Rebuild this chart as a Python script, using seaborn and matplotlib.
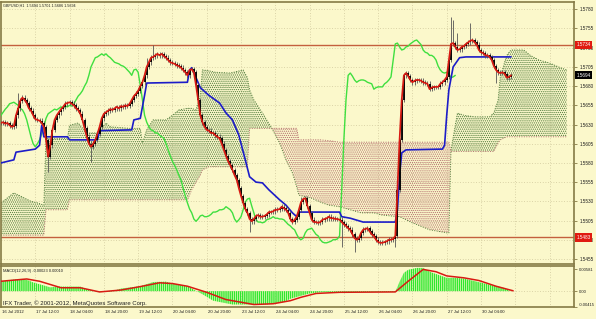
import numpy as np
import pandas as pd
import matplotlib
matplotlib.use("Agg")
import matplotlib.pyplot as plt
import matplotlib.transforms as mtransforms
import seaborn as sns

# ---------------- data ----------------
close = [
    1.5632, 1.5633, 1.5631, 1.5632, 1.5629, 1.5627, 1.5628, 1.5642, 1.5651, 1.5661,
    1.5665, 1.5662, 1.5658, 1.5651, 1.5648, 1.5642, 1.5637, 1.5636, 1.5635, 1.5632,
    1.5627, 1.5610, 1.5588, 1.5603, 1.5623, 1.5636, 1.5642, 1.5646, 1.5650, 1.5653,
    1.5657, 1.5658, 1.5659, 1.5657, 1.5655, 1.5651, 1.5649, 1.5644, 1.5636, 1.5625,
    1.5614, 1.5605, 1.5601, 1.5605, 1.5610, 1.5618, 1.5627, 1.5638, 1.5644, 1.5646,
    1.5648, 1.5650, 1.5649, 1.5651, 1.5653, 1.5651, 1.5654, 1.5653, 1.5655, 1.5654,
    1.5657, 1.5662, 1.5667, 1.5670, 1.5674, 1.5680, 1.5685, 1.5694, 1.5705, 1.5711,
    1.5717, 1.5718, 1.5720, 1.5722, 1.5720, 1.5722, 1.5719, 1.5717, 1.5714, 1.5711,
    1.5710, 1.5709, 1.5707, 1.5706, 1.5704, 1.5701, 1.5698, 1.5694, 1.5701, 1.5702,
    1.5698, 1.5681, 1.5662, 1.5642, 1.5633, 1.5627, 1.5623, 1.5622, 1.5619, 1.5619,
    1.5616, 1.5614, 1.5612, 1.5605, 1.5597, 1.5589, 1.5582, 1.5577, 1.5571, 1.5564,
    1.5558, 1.5547, 1.5537, 1.5528, 1.5520, 1.5515, 1.5507, 1.5504, 1.5507, 1.5511,
    1.5512, 1.5510, 1.5510, 1.5511, 1.5513, 1.5516, 1.5516, 1.5517, 1.5519, 1.5519,
    1.5520, 1.5523, 1.5521, 1.5519, 1.5515, 1.5507, 1.5503, 1.5506, 1.5510, 1.5519,
    1.5529, 1.5533, 1.5534, 1.5524, 1.5515, 1.5506, 1.5503, 1.5503, 1.5502, 1.5503,
    1.5506, 1.5507, 1.5508, 1.5510, 1.5508, 1.5508, 1.5507, 1.5507, 1.5506, 1.5503,
    1.5500, 1.5498, 1.5495, 1.5493, 1.5487, 1.5482, 1.5480, 1.5482, 1.5489, 1.5493,
    1.5494, 1.5495, 1.5491, 1.5487, 1.5485, 1.5480, 1.5477, 1.5476, 1.5476, 1.5477,
    1.5478, 1.5480, 1.5480, 1.5481, 1.5485, 1.5545, 1.5610, 1.5662, 1.5694, 1.5697,
    1.5693, 1.5688, 1.5685, 1.5687, 1.5688, 1.5688, 1.5687, 1.5685, 1.5684, 1.5683,
    1.5676, 1.5678, 1.5679, 1.5679, 1.5679, 1.5683, 1.5685, 1.5688, 1.5692, 1.5714,
    1.5735, 1.5736, 1.5731, 1.5727, 1.5728, 1.5731, 1.5732, 1.5735, 1.5737, 1.5739,
    1.5740, 1.5737, 1.5734, 1.5727, 1.5724, 1.5723, 1.5720, 1.5720, 1.5718, 1.5714,
    1.5706, 1.5701, 1.5698, 1.5697, 1.5698, 1.5696, 1.5691, 1.5692, 1.5694,
]

spike_hi_idx = [8, 68, 71, 210, 211, 213, 219, 140]
spike_hi_val = [1.5671, 1.5717, 1.5734, 1.5770, 1.5766, 1.5749, 1.5762, 1.5536]
spike_lo_idx = [22, 42, 116, 159, 165, 184, 231]
spike_lo_val = [1.5568, 1.5581, 1.5490, 1.5470, 1.5464, 1.5470, 1.5684]

kijun_idx = [0, 6, 7, 16, 18, 19, 20, 31, 32, 45, 46, 61, 62, 65, 67, 68, 87, 88, 89, 90,
             91, 93, 97, 102, 105, 108, 111, 114, 116, 119, 122, 125, 130, 133, 136, 138,
             139, 158, 159, 163, 169, 184, 185, 186, 187, 189, 206, 207, 208, 209, 211,
             214, 217, 238]
kijun_val = [1.5580, 1.5584, 1.5594, 1.5598, 1.5603, 1.5629, 1.5614, 1.5614, 1.5610, 1.5610,
             1.5622, 1.5623, 1.5636, 1.5638, 1.5668, 1.5684, 1.5685, 1.5701, 1.5704, 1.5698,
             1.5691, 1.5678, 1.5668, 1.5658, 1.5645, 1.5636, 1.5616, 1.5584, 1.5562, 1.5555,
             1.5554, 1.5545, 1.5532, 1.5525, 1.5515, 1.5510, 1.5516, 1.5516, 1.5510, 1.5508,
             1.5503, 1.5503, 1.5519, 1.5564, 1.5593, 1.5597, 1.5598, 1.5603, 1.5642, 1.5675,
             1.5705, 1.5717, 1.5718, 1.5718]

cloud_idx = [0, 6, 9, 14, 17, 20, 21, 31, 32, 36, 40, 45, 49, 51, 60, 65, 66, 68, 71, 77,
             80, 83, 87, 89, 91, 93, 94, 97, 100, 107, 113, 115, 116, 118, 122, 126, 130,
             133, 136, 138, 139, 145, 149, 153, 158, 163, 168, 174, 178, 186, 192, 200,
             208, 209, 210, 213, 216, 221, 228, 230, 232, 233, 236, 238, 244, 247, 251,
             256, 261, 264]
span_a = [1.5528, 1.5541, 1.5537, 1.5530, 1.5528, 1.5525, 1.5612, 1.5612, 1.5629, 1.5632,
          1.5619, 1.5619, 1.5632, 1.5627, 1.5625, 1.5625, 1.5606, 1.5623, 1.5636, 1.5636,
          1.5642, 1.5649, 1.5651, 1.5651, 1.5649, 1.5668, 1.5701, 1.5700, 1.5698, 1.5697,
          1.5701, 1.5691, 1.5675, 1.5662, 1.5645, 1.5627, 1.5606, 1.5584, 1.5567, 1.5549,
          1.5538, 1.5534, 1.5529, 1.5525, 1.5523, 1.5519, 1.5515, 1.5515, 1.5512, 1.5510,
          1.5502, 1.5493, 1.5489, 1.5489, 1.5597, 1.5645, 1.5642, 1.5640, 1.5640, 1.5645,
          1.5662, 1.5692, 1.5720, 1.5727, 1.5727, 1.5720, 1.5714, 1.5710, 1.5704, 1.5701]
span_b = [1.5486, 1.5486, 1.5486, 1.5486, 1.5486, 1.5486, 1.5519, 1.5519, 1.5532, 1.5532,
          1.5532, 1.5532, 1.5532, 1.5532, 1.5532, 1.5532, 1.5532, 1.5532, 1.5532, 1.5532,
          1.5532, 1.5532, 1.5532, 1.5545, 1.5555, 1.5564, 1.5571, 1.5575, 1.5575, 1.5575,
          1.5575, 1.5575, 1.5625, 1.5625, 1.5625, 1.5625, 1.5625, 1.5625, 1.5625, 1.5625,
          1.5610, 1.5610, 1.5610, 1.5609, 1.5607, 1.5607, 1.5607, 1.5607, 1.5607, 1.5607,
          1.5607, 1.5607, 1.5607, 1.5607, 1.5595, 1.5595, 1.5595, 1.5595, 1.5595, 1.5595,
          1.5606, 1.5610, 1.5614, 1.5614, 1.5614, 1.5614, 1.5614, 1.5614, 1.5614, 1.5614]

macd_idx = [0, 8, 11, 15, 20, 23, 26, 37, 40, 45, 51, 56, 65, 71, 77, 80, 87, 91, 94, 99,
            108, 124, 132, 135, 140, 144, 149, 154, 184, 186, 188, 190, 194, 197, 200, 204,
            208, 212, 216, 222, 228, 234, 238]
macd_hist = [0.0026, 0.0032, 0.0032, 0.0023, 0.0015, 0.0010, 0.0012, 0.0012, 0.0005, -0.0002,
             -0.0002, 0.0007, 0.0013, 0.0024, 0.0025, 0.0020, 0.0013, 0.0001, -0.0008, -0.0025,
             -0.0035, -0.0035, -0.0029, -0.0020, -0.0012, -0.0006, -0.0003, -0.0002, -0.0002,
             0.0025, 0.0048, 0.0056, 0.0061, 0.0061, 0.0051, 0.0043, 0.0035, 0.0035, 0.0033,
             0.0025, 0.0017, 0.0010, 0.0000]
signal_idx = [0, 12, 18, 28, 37, 46, 56, 65, 74, 80, 87, 96, 105, 118, 127, 135, 140, 147,
              158, 184, 190, 197, 203, 208, 216, 223, 231, 239]
signal_val = [0.0026, 0.0032, 0.0026, 0.0009, 0.0009, -0.0002, 0.0003, 0.0012, 0.0022, 0.0020,
              0.0013, -0.0003, -0.0022, -0.0035, -0.0033, -0.0025, -0.0016, -0.0006, -0.0003,
              -0.0002, 0.0026, 0.0057, 0.0051, 0.0040, 0.0035, 0.0028, 0.0013, 0.0001]

time_labels = ["16 Jul 2012", "17 Jul 12:00", "18 Jul 04:00", "18 Jul 20:00", "19 Jul 12:00",
               "20 Jul 04:00", "20 Jul 20:00", "23 Jul 12:00", "24 Jul 04:00", "24 Jul 20:00",
               "25 Jul 12:00", "26 Jul 04:00", "26 Jul 20:00", "27 Jul 12:00", "30 Jul 04:00"]
price_ticks = [1.5780, 1.5755, 1.5730, 1.5705, 1.5680, 1.5655, 1.5630, 1.5605, 1.5580,
               1.5555, 1.5530, 1.5505, 1.5480, 1.5455]
macd_ticks = [0.00581, 0.0, -0.00415]
macd_tick_labels = ["0.00581", "0.00", "-0.00415"]
level_lines = [1.5734, 1.5483]
last_price = 1.5694
title_text = "GBPUSD,H1  1.5694 1.5701 1.5686 1.5694"
macd_text = "MACD(12,26,9) -0.00023 0.00010"
copyright_text = "IFX Trader, \u00a9 2001-2012, MetaQuotes Software Corp."
chikou_shift = 26
bars_per_label = 16

# ---------------- style ----------------
sns.set_style("white")
plt.rcParams["font.family"] = ["Liberation Sans", "DejaVu Sans"]

BG = "#FBF8CB"
FRAME = "#857A45"
GRID = "#CFC79B"
LEVEL = "#C4603E"
CLOUD_G = "#4F7A3A"
CLOUD_R = "#B46E6E"
LIME = "#3FDF3F"
RED = "#D81A12"
BLUE = "#1C1CC8"
HIST = "#2EE82E"
TXT = "#1E1E1E"
FS = 3.3

W, H = 596, 319
fig = plt.figure(figsize=(W / 100, H / 100), dpi=100, facecolor=BG)
ax = fig.add_axes([1 / W, 1 - 264 / H, 573 / W, 262 / H])
axm = fig.add_axes([1 / W, 1 - 307 / H, 573 / W, 41 / H], sharex=ax)
for a in (ax, axm):
    a.set_facecolor(BG)
    for s in a.spines.values():
        s.set_color(FRAME)
        s.set_linewidth(1.2)

ax.set_xlim(0, 267.4)
ax.set_ylim(1.54484, 1.57895)
axm.set_ylim(-0.00415, 0.0066)

idx = np.arange(len(close))
c = np.array(close)
o = np.r_[c[0], c[:-1]]
wick = 0.0003
hi = np.maximum(o, c) + wick
lo = np.minimum(o, c) - wick
hi[spike_hi_idx] = np.maximum(hi[spike_hi_idx], spike_hi_val)
lo[spike_lo_idx] = np.minimum(lo[spike_lo_idx], spike_lo_val)

grid_idx = list(range(bars_per_label, 257, bars_per_label))
dots = (0, (1, 2.2))
for p in price_ticks:
    ax.axhline(p, color=GRID, lw=0.6, ls=dots, zorder=0)
for t in grid_idx:
    ax.axvline(t, color=GRID, lw=0.6, ls=dots, zorder=0)
    axm.axvline(t, color=GRID, lw=0.6, ls=dots, zorder=0)
axm.axhline(0, color=GRID, lw=0.6, ls=dots, zorder=0)

# ---------------- Ichimoku cloud ----------------
ci = np.array(cloud_idx, dtype=float)
sa = np.array(span_a)
sb = np.array(span_b)
with plt.rc_context({"hatch.linewidth": 0.6}):
    g = ax.fill_between(ci, sa, sb, where=sa >= sb, interpolate=True, facecolor="none",
                        edgecolor=CLOUD_G, hatch="." * 8, linewidth=0, zorder=1)
    r = ax.fill_between(ci, sa, sb, where=sa < sb, interpolate=True, facecolor="none",
                        edgecolor=CLOUD_R, hatch="." * 8, linewidth=0, zorder=1)
    for coll in (g, r):
        if hasattr(coll, "set_hatch_linewidth"):
            coll.set_hatch_linewidth(0.6)
ax.plot(ci, sa, color=CLOUD_G, lw=0.7, ls=(0, (1, 1.5)), zorder=1)
ax.plot(ci, sb, color=CLOUD_R, lw=0.7, ls=(0, (1, 1.5)), zorder=1)

# level lines
for lv in level_lines:
    ax.axhline(lv, color=LEVEL, lw=1.0, zorder=2)

# chikou span (close shifted back)
sns.lineplot(x=idx - chikou_shift, y=c, ax=ax, color=LIME, lw=1.0, sort=False,
             estimator=None, zorder=3)
# kijun
sns.lineplot(x=kijun_idx, y=kijun_val, ax=ax, color=BLUE, lw=1.2, sort=False,
             estimator=None, zorder=4)
# candles
ax.vlines(idx, lo, hi, color="#555555", lw=0.6, zorder=5)
ax.vlines(idx, np.minimum(o, c), np.maximum(o, c), color="black", lw=1.3, zorder=5)
# red line
sns.lineplot(x=idx, y=c, ax=ax, color=RED, lw=1.25, sort=False, estimator=None, zorder=6)

ax.set_xlabel("")
ax.set_ylabel("")
ax.yaxis.tick_right()
ax.set_yticks(price_ticks)
ax.set_yticklabels([f"{p:.4f}" for p in price_ticks])
ax.tick_params(axis="y", labelsize=FS, length=2, width=0.6, pad=2, color=FRAME,
               labelcolor=TXT)
ax.tick_params(axis="x", bottom=False, labelbottom=False)

# price boxes
bt = mtransforms.blended_transform_factory(ax.transAxes, ax.transData)
for lv in level_lines:
    ax.text(1.004, lv, f"{lv:.4f}", transform=bt, fontsize=FS, color="white",
            va="center", ha="left", clip_on=False, zorder=10,
            bbox=dict(boxstyle="square,pad=0.35", fc="#E01A10", ec="none"))
ax.text(1.004, last_price, f"{last_price:.4f}", transform=bt, fontsize=FS, color="white",
        va="center", ha="left", clip_on=False, zorder=10,
        bbox=dict(boxstyle="square,pad=0.35", fc="black", ec="none"))

# ---------------- MACD ----------------
mi = np.array(macd_idx, dtype=float)
mh = np.array(macd_hist)
with plt.rc_context({"hatch.linewidth": 1.0}):
    hcol = axm.fill_between(mi, 0, mh, facecolor="none", edgecolor=HIST, hatch="|" * 8,
                            linewidth=0, zorder=1)
    if hasattr(hcol, "set_hatch_linewidth"):
        hcol.set_hatch_linewidth(1.0)
sns.lineplot(x=signal_idx, y=signal_val, ax=axm, color=RED, lw=1.1, sort=False,
             estimator=None, zorder=3)
axm.set_xlabel("")
axm.set_ylabel("")
axm.yaxis.tick_right()
axm.set_yticks(macd_ticks)
axm.set_yticklabels(macd_tick_labels)
axm.tick_params(axis="y", labelsize=3.0, length=2, width=0.6, pad=1.5, color=FRAME,
                labelcolor=TXT)
axm.set_xticks(grid_idx)
axm.tick_params(axis="x", labelbottom=False, length=2, width=0.6, color=FRAME)
mlabels = axm.get_yticklabels()
mlabels[-1].set_verticalalignment("bottom")

xt = mtransforms.blended_transform_factory(axm.transData, fig.transFigure)
for k, lab in enumerate(time_labels):
    axm.text(k * bars_per_label + 0.4, 1 - 312 / H, lab, transform=xt, fontsize=3.1,
             color=TXT, ha="left", va="center", clip_on=False)

fig.text(3 / W, 1 - 6 / H, title_text, fontsize=2.7, color=TXT, ha="left", va="center")
fig.text(3 / W, 1 - 271 / H, macd_text, fontsize=2.9, color=TXT, ha="left", va="center")
fig.text(3 / W, 1 - 303.5 / H, copyright_text, fontsize=4.3, color=TXT, ha="left",
         va="center")

fig.savefig("out.png", dpi=100, facecolor=BG)
